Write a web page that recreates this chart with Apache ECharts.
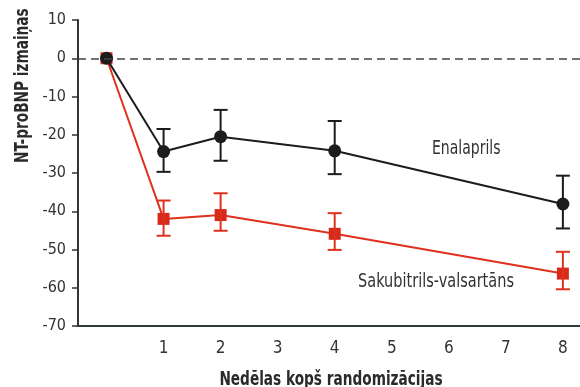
<!DOCTYPE html>
<html>
<head>
<meta charset="utf-8">
<script src="https://cdn.jsdelivr.net/npm/echarts@6/dist/echarts.min.js"></script>
<style>html,body{margin:0;padding:0;background:#fff}#c{width:580px;height:387px}</style>
</head>
<body>
<div id="c"></div>
<script>
var weeks = [0, 1, 2, 4, 8];
var enalaprilMean = [0, -24.4, -20.5, -24.2, -38.1];
var enalaprilLow  = [null, -29.7, -26.8, -30.3, -44.5];
var enalaprilHigh = [null, -18.5, -13.5, -16.4, -30.7];
var sacMean = [0, -42.0, -41.0, -45.9, -56.3];
var sacLow  = [null, -46.4, -45.1, -50.1, -60.4];
var sacHigh = [null, -37.2, -35.3, -40.5, -50.6];
var xTickLabels = [1, 2, 3, 4, 5, 6, 7, 8];
var yTicks = [-70, -60, -50, -40, -30, -20, -10, 0, 10];

var FONT = '"DejaVu Sans Condensed", "Liberation Sans", sans-serif';
var BLACK = '#1c1c1c';
var RED = '#e0301e';

function pairs(xs, ys) { return xs.map(function (x, i) { return [x, ys[i]]; }); }
function errData(xs, lo, hi) {
  var out = [];
  xs.forEach(function (x, i) { if (lo[i] !== null) out.push([x, lo[i], hi[i]]); });
  return out;
}
function errSeries(data, color) {
  return {
    type: 'custom',
    data: data,
    z: 3,
    renderItem: function (params, api) {
      var x = api.value(0);
      var pLo = api.coord([x, api.value(1)]);
      var pHi = api.coord([x, api.value(2)]);
      var w = 7;
      var st = { stroke: color, lineWidth: 2 };
      return {
        type: 'group',
        children: [
          { type: 'line', shape: { x1: pLo[0], y1: pLo[1], x2: pHi[0], y2: pHi[1] }, style: st },
          { type: 'line', shape: { x1: pLo[0] - w, y1: pLo[1], x2: pLo[0] + w, y2: pLo[1] }, style: st },
          { type: 'line', shape: { x1: pHi[0] - w, y1: pHi[1], x2: pHi[0] + w, y2: pHi[1] }, style: st }
        ]
      };
    }
  };
}

var chart = echarts.init(document.getElementById('c'));
chart.setOption({
  animation: false,
  backgroundColor: '#fff',
  grid: { left: 78, right: 0, top: 20, bottom: 61 },
  xAxis: {
    type: 'value',
    min: -0.5,
    max: 8.3,
    axisLine: { show: true, onZero: false, lineStyle: { color: '#2f3a3a', width: 2 } },
    axisTick: { show: false },
    splitLine: { show: false },
    axisLabel: {
      customValues: xTickLabels,
      margin: 14,
      fontFamily: FONT, fontSize: 17, color: '#333'
    }
  },
  yAxis: {
    type: 'value',
    min: -70,
    max: 10,
    interval: 10,
    axisLine: { show: true, onZero: false, lineStyle: { color: '#333', width: 2 } },
    axisTick: { show: true, length: 6, lineStyle: { color: '#333', width: 1.5 } },
    splitLine: { show: false },
    axisLabel: {
      margin: 12,
      fontFamily: FONT, fontSize: 16, color: '#333',
      formatter: function (v) { return yTicks.indexOf(v) >= 0 ? String(v) : ''; }
    }
  },
  graphic: [
    {
      type: 'text',
      x: 14, y: 163,
      rotation: Math.PI / 2,
      scaleX: 0.8,
      style: { text: 'NT-proBNP izmaiņas', font: 'bold 19px ' + FONT, fill: '#2a2a2a', textVerticalAlign: 'top' }
    },
    {
      type: 'text',
      x: 331, y: 380,
      scaleX: 0.76,
      style: { text: 'Nedēlas kopš randomizācijas', font: 'bold 20px ' + FONT, fill: '#2a2a2a', textAlign: 'center', textVerticalAlign: 'middle' }
    },
    {
      type: 'text', x: 432, y: 149, scaleX: 0.82,
      style: { text: 'Enalaprils', font: '19px ' + FONT, fill: '#333', textVerticalAlign: 'middle' }
    },
    {
      type: 'text', x: 358, y: 282, scaleX: 0.85,
      style: { text: 'Sakubitrils-valsartāns', font: '19px ' + FONT, fill: '#333', textVerticalAlign: 'middle' }
    }
  ],
  series: [
    {
      type: 'line',
      data: pairs(weeks, sacMean),
      symbol: 'rect', symbolSize: 12,
      itemStyle: { color: '#d82a1a' },
      lineStyle: { color: RED, width: 2 },
      z: 2,
      markLine: {
        silent: true, symbol: 'none', label: { show: false },
        lineStyle: { color: '#444', type: [8, 5], width: 1.5 },
        data: [{ yAxis: 0 }]
      }
    },
    errSeries(errData(weeks, sacLow, sacHigh), RED),
    {
      type: 'line',
      data: pairs(weeks, enalaprilMean),
      symbol: 'circle', symbolSize: 13,
      itemStyle: { color: BLACK },
      lineStyle: { color: BLACK, width: 2 },
      z: 4
    },
    errSeries(errData(weeks, enalaprilLow, enalaprilHigh), BLACK)
  ]
});
</script>
</body>
</html>
